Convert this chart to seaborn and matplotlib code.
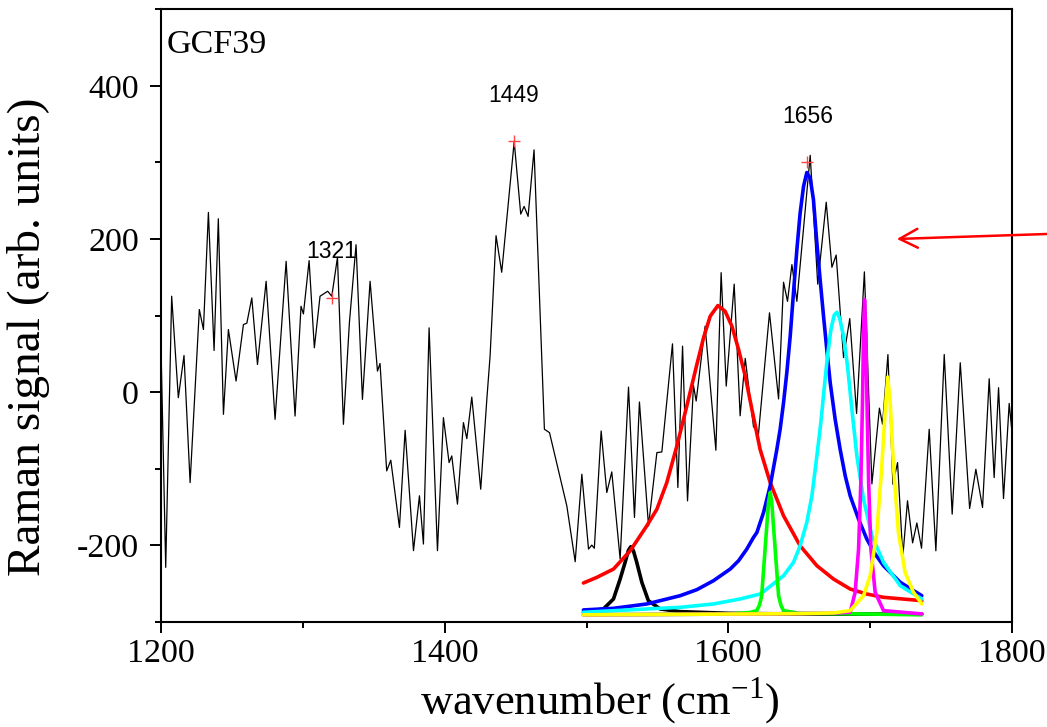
import matplotlib
matplotlib.use("Agg")
import matplotlib.pyplot as plt
from matplotlib.ticker import MultipleLocator
import seaborn as sns

spec_x = [1200, 1203.3, 1207.5, 1212.2, 1216.2, 1220.5, 1227, 1229.9, 1233.4, 1237.4,
          1240.4, 1244, 1247.5, 1252.9, 1258.1, 1260.5, 1264, 1268, 1274.1, 1280.4,
          1288.2, 1294.5, 1298.7, 1300.4, 1304.4, 1308.1, 1312.1, 1317.5, 1320.4, 1324.4,
          1328.6, 1332.8, 1337.5, 1342, 1347.4, 1352.6, 1354.4, 1359.1, 1362, 1368.1,
          1372.1, 1378, 1382.2, 1385, 1389, 1394.9, 1399.1, 1403.1, 1405, 1409,
          1413.2, 1415.6, 1419.1, 1425.4, 1429.7, 1432, 1436.2, 1440.2, 1449, 1453.6,
          1456, 1458.8, 1463, 1470.3, 1473.9, 1486.1, 1492, 1496.7, 1501.4, 1503.7,
          1505.5, 1510.3, 1514.3, 1517.8, 1523.7, 1529.6, 1533.8, 1537.3, 1543.7, 1549.6,
          1553.1, 1560.6, 1564.4, 1567.7, 1571.2, 1575.4, 1577.3, 1583.6, 1591.2, 1594.9,
          1598.5, 1604.1, 1608.3, 1611.9, 1617.7, 1621.2, 1629, 1635.4, 1638.9, 1641.7,
          1644.8, 1648.3, 1657.7, 1663, 1669, 1673, 1676, 1681.2, 1685.6, 1690.4,
          1695.9, 1701.2, 1706.5, 1708.7, 1712.5, 1716, 1719.3, 1723, 1726.3, 1729.9,
          1732.9, 1736.2, 1741.6, 1746.3, 1752.2, 1757.8, 1763.5, 1770.1, 1774.5, 1779.2,
          1783.9, 1787.4, 1790.5, 1794, 1798, 1800]
spec_y = [57.8, -229, 125.2, -7.4, 47.8, -118.2, 107.8, 81.7, 234.7, 54.3,
          226.4, -29.1, 81.7, 14.4, 88.2, 90, 123, 36, 144.7, -35.6,
          170.8, -31.3, 112.1, 102.1, 171.7, 57.8, 125.2, 131.7, 125.2, 176,
          -42.1, 90.4, 192.5, -9.6, 144.7, 27.4, 37.4, -103, -89, -176.8,
          -49.9, -207.2, -135.5, -198.5, 83.9, -207.2, -33.4, -92.1, -83.4, -146.4,
          -39.9, -60.8, -6.5, -126.9, -9.5, 47, 204.3, 156.5, 327.3, 232.5,
          242.5, 229.5, 316.4, -48.6, -53, -148.6, -221.6, -107.3, -205.1, -199.9,
          -204, -50.8, -131.2, -104.3, -218.2, 6.5, -163.8, -13, -174.7, -79.1,
          -78.2, 63, -124.7, 60, -142.1, 8.7, -11.7, 86.1, -76, 156,
          7.8, 141, -31, 44, -45, -55.2, 103.5, -9, 143.5, 118.5,
          166.5, 118.5, 309.3, 141, 248, 163, 179, 45, 96, -28,
          157, -120, -21, -42, 49, -120.4, -92.1, -215, -142, -197,
          -171, -204, -48.6, -207.3, 49.1, -159.5, 38.3, -152.1, -100.8, -150.8,
          17.4, -111.7, 5.7, -139.1, -14.8, -53]

# fitted components
black_x = [1497.8, 1511.9, 1519.0, 1523.7, 1527.2, 1529.5, 1531.2, 1533.0, 1535.4, 1539.0,
           1543.6, 1551.9, 1566.0, 1600, 1650, 1700, 1736.4]
black_y = [-287.6, -283.3, -270.3, -244.2, -222.4, -207, -202.0, -207, -222.4, -248.5,
           -272.5, -283.3, -286.8, -289, -290, -290, -290]

red_x = [1497.8, 1507.2, 1519.0, 1530.8, 1542.5, 1549.6, 1556.6, 1563.7, 1570.7, 1577.8,
         1582.5, 1587.2, 1592.6, 1597.7, 1602.5, 1607.2, 1611.9, 1616.6, 1622.4, 1629.5,
         1638.9, 1650.6, 1662.4, 1674.1, 1685.9, 1697.6, 1709.4, 1736.4]
red_y = [-249.4, -242.1, -231.2, -207.3, -174.7, -153, -118.2, -70.4, -18.2, 36.1,
         70.9, 99.1, 113, 105.6, 86.1, 55.6, 20.9, -22.6, -75, -118.2,
         -161.6, -200.8, -226.8, -244.2, -257.3, -263.8, -268.1, -272.5]

blue_x = [1497.8, 1519, 1542.5, 1566, 1577.8, 1589.5, 1601.3, 1607.2, 1613, 1617.7,
          1620.1, 1624.8, 1629.5, 1634.2, 1636.5, 1638.9, 1641.2, 1643.6, 1645.9, 1648.3,
          1650.6, 1653, 1655.3, 1657.7, 1660.0, 1662.4, 1664.7, 1667.1, 1669.4, 1671.8,
          1675.3, 1678.8, 1682.4, 1685.9, 1691.8, 1697.6, 1703.5, 1709.4, 1721.2, 1736.4]
blue_y = [-284.6, -282.5, -276.8, -266, -258.1, -246.4, -231.2, -220.3, -205.1, -189.9,
          -183.4, -157.3, -122.5, -74.7, -48.7, -13.9, 25.2, 73, 129.5, 186,
          233.8, 268.6, 286.8, 279.5, 251.2, 194.7, 146.9, 99.1, 55.6, 12.2,
          -35.6, -74.7, -109.5, -135.6, -166, -192, -211.6, -226.9, -248.5, -266]

cyan_x = [1497.8, 1542.5, 1566, 1589.5, 1608.3, 1622.4, 1627.1, 1638.9, 1645.9, 1650.6,
          1655.3, 1658.9, 1662.4, 1665.2, 1667.5, 1669.9, 1672.3, 1674.6, 1676.5, 1678.4,
          1681.2, 1684, 1687.1, 1690.6, 1695.3, 1701.2, 1709.4, 1721.2, 1736.4]
cyan_y = [-287.7, -283.3, -281.2, -276.8, -270.3, -263.8, -257.3, -239.9, -222.5, -200.8,
          -170.3, -135.6, -83.4, -40, 3.5, 47, 81.7, 100.4, 104.3, 96.9,
          73, 33.9, -22.6, -83.4, -139.9, -187.7, -222.5, -252.9, -270.3]

green_x = [1497.8, 1600, 1615, 1620, 1622, 1623.5, 1625.9, 1628.3, 1629.5, 1630.6,
           1633.0, 1635.4, 1637, 1638.8, 1650, 1700, 1736.4]
green_y = [-291, -290, -288, -285.5, -278, -266, -205, -144, -131, -144,
           -205, -266, -278, -285.5, -289, -290, -291]

magenta_x = [1497.8, 1600, 1670, 1685.9, 1689.4, 1691.8, 1693.4, 1694.6, 1695.3, 1696.0,
             1697.0, 1697.7, 1698.9, 1700.5, 1703.5, 1709.4, 1736.4]
magenta_y = [-291, -290, -289, -287.6, -261.5, -205, -118, -9.5, 77.4, 120.9,
             77.4, -9.5, -118, -205, -261.5, -285.5, -289.8]

yellow_x = [1497.8, 1600, 1650, 1674.1, 1685.9, 1695.3, 1700.0, 1704.7, 1708.2, 1710.6,
            1712.4, 1714.1, 1716.4, 1719.9, 1724.6, 1730.5, 1736.4]
yellow_y = [-291, -290, -289.5, -288.5, -285.5, -266, -239.9, -183.3, -96.5, -22.6,
            19.6, -13.8, -96.5, -183.3, -235.5, -261.5, -276.8]

# picked peaks
peak_x = [1320.4, 1449, 1655.4]
peak_y = [123, 328, 300]
peak_labels = ["1321", "1449", "1656"]
label_x = [1320, 1448.5, 1656.3]
label_y = [175, 379.5, 351.5]

sns.set_style("ticks")
plt.rcParams['font.family'] = ['Liberation Serif', 'DejaVu Serif']
plt.rcParams['mathtext.fontset'] = 'custom'
plt.rcParams['mathtext.rm'] = 'Liberation Serif'
plt.rcParams['axes.unicode_minus'] = False
for key in ['text.color', 'axes.labelcolor', 'xtick.color', 'ytick.color', 'axes.edgecolor']:
    plt.rcParams[key] = 'black'

fig = plt.figure(figsize=(10.47, 7.27), dpi=100)
ax = fig.add_axes([0.1538, 0.1448, 0.8128, 0.8424])

sns.lineplot(x=spec_x, y=spec_y, ax=ax, color='black', linewidth=0.9,
             estimator=None, sort=False, solid_joinstyle='round')

fits = [(black_x, black_y, 'black'), (red_x, red_y, 'red'), (blue_x, blue_y, 'blue'),
        (cyan_x, cyan_y, 'cyan'), (green_x, green_y, 'lime'),
        (magenta_x, magenta_y, 'magenta'), (yellow_x, yellow_y, 'yellow')]
for fx, fy, col in fits:
    sns.lineplot(x=fx, y=fy, ax=ax, color=col, linewidth=2.6,
                 estimator=None, sort=False, solid_joinstyle='round')

sns.scatterplot(x=peak_x, y=peak_y, ax=ax, marker='+', s=70, color='#ff4545',
                linewidth=1.0, zorder=5)
for lx, ly, t in zip(label_x, label_y, peak_labels):
    ax.text(lx, ly, t, ha='center', va='baseline', fontsize=16.5,
            family=['Liberation Sans', 'DejaVu Sans'])

ax.text(0.006, 0.928, "GCF39", transform=ax.transAxes, fontsize=24.5,
        ha='left', va='baseline')

ax.annotate("", xy=(1718.8, 200), xytext=(1824.8, 206.5),
            xycoords='data', textcoords='data', annotation_clip=False,
            arrowprops=dict(arrowstyle='->,head_length=0.65,head_width=0.34',
                            color='red', lw=1.8, shrinkA=0, shrinkB=0,
                            mutation_scale=20))

ax.set_xlim(1200, 1800)
ax.set_ylim(-300, 500)
ax.xaxis.set_major_locator(MultipleLocator(200))
ax.xaxis.set_minor_locator(MultipleLocator(100))
ax.yaxis.set_major_locator(MultipleLocator(200))
ax.yaxis.set_minor_locator(MultipleLocator(100))
ax.tick_params(which='major', direction='out', length=8, width=1.4, labelsize=24.5)
ax.tick_params(axis='x', which='major', pad=4)
ax.tick_params(axis='y', which='major', pad=8)
ax.tick_params(which='minor', direction='out', length=4, width=1.4)
for s in ax.spines.values():
    s.set_linewidth(1.5)
    s.set_color('black')

ax.set_xlabel("wavenumber (cm$^{\\mathregular{-1}}$)", fontsize=32)
ax.set_ylabel("Raman signal (arb. units)", fontsize=34)
ax.xaxis.set_label_coords(0.516, -0.088)
ax.yaxis.set_label_coords(-0.1304, 0.465)
ax.xaxis.label.set_va('top')

fig.savefig("out.png", dpi=100)
